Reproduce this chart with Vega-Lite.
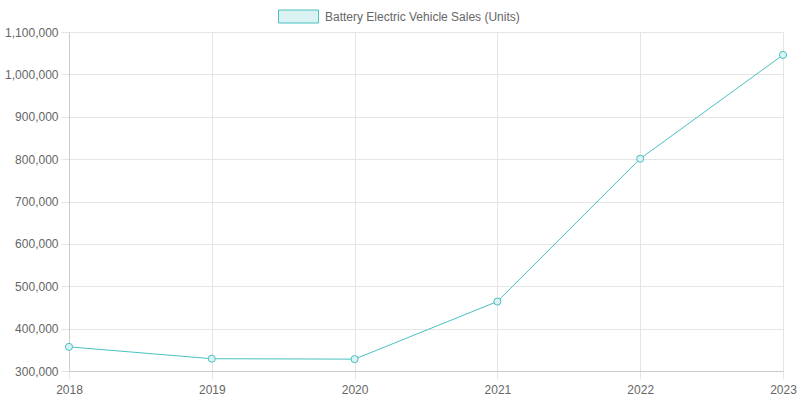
{
  "$schema": "https://vega.github.io/schema/vega-lite/v6.json",
  "autosize": {"type": "none"},
  "width": 714,
  "height": 339,
  "padding": {"left": 69, "top": 32, "right": 17, "bottom": 29},
  "background": "white",
  "data": {
    "values": [
      {"year": "2018", "sales": 357000, "series": "Battery Electric Vehicle Sales (Units)"},
      {"year": "2019", "sales": 329000, "series": "Battery Electric Vehicle Sales (Units)"},
      {"year": "2020", "sales": 328000, "series": "Battery Electric Vehicle Sales (Units)"},
      {"year": "2021", "sales": 464000, "series": "Battery Electric Vehicle Sales (Units)"},
      {"year": "2022", "sales": 801000, "series": "Battery Electric Vehicle Sales (Units)"},
      {"year": "2023", "sales": 1046000, "series": "Battery Electric Vehicle Sales (Units)"}
    ]
  },
  "encoding": {
    "x": {
      "field": "year",
      "type": "ordinal",
      "scale": {"type": "point", "padding": 0},
      "axis": {
        "title": null,
        "labelAngle": 0,
        "grid": true,
        "tickSize": 8,
        "labelPadding": 5
      }
    },
    "y": {
      "field": "sales",
      "type": "quantitative",
      "scale": {"domain": [300000, 1100000], "nice": false, "zero": false},
      "axis": {
        "title": null,
        "format": ",d",
        "values": [300000, 400000, 500000, 600000, 700000, 800000, 900000, 1000000, 1100000],
        "tickSize": 8,
        "labelPadding": 3
      }
    },
    "color": {
      "field": "series",
      "type": "nominal",
      "scale": {"range": ["#4bc0c0"]},
      "legend": {
        "title": null,
        "orient": "none",
        "legendX": 209,
        "legendY": -36,
        "symbolType": "M-1,-0.325H1V0.325H-1Z",
        "symbolSize": 1600,
        "symbolFillColor": "#dbf2f2",
        "symbolStrokeColor": "#4bc0c0",
        "symbolStrokeWidth": 1,
        "symbolOpacity": 1,
        "labelFontSize": 12,
        "labelColor": "#666666",
        "labelFont": "Liberation Sans",
        "labelOffset": 6,
        "labelLimit": 400
      }
    }
  },
  "layer": [
    {"mark": {"type": "line", "strokeWidth": 1}},
    {
      "mark": {
        "type": "point",
        "filled": false,
        "fill": "#dbf2f2",
        "fillOpacity": 1,
        "strokeWidth": 1,
        "size": 50,
        "opacity": 1
      }
    }
  ],
  "config": {
    "view": {"stroke": null},
    "axis": {
      "labelFont": "Liberation Sans",
      "labelFontSize": 12,
      "labelColor": "#666666",
      "gridColor": "#e5e5e5",
      "gridWidth": 1,
      "tickColor": "#e5e5e5",
      "domainColor": "#cccccc",
      "domainWidth": 1
    }
  }
}
